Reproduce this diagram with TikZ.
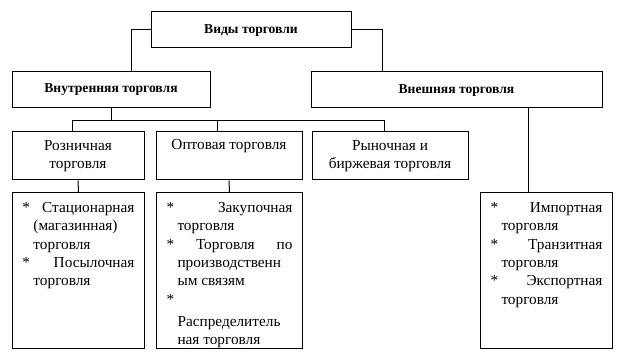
\documentclass[tikz,border=0pt]{standalone}
\usepackage{fontspec}
\setmainfont{Liberation Serif}

\newcommand{\ind}{\hspace*{11pt}}
\newcommand{\bul}{{*}}

\begin{document}
\begin{tikzpicture}[x=1pt, y=-1pt, line width=1pt,
  every node/.style={font=\fontsize{15.3}{18.3}\selectfont},
  titlebox/.style={draw, minimum height=36pt, font=\fontsize{13.6}{18.3}\selectfont\bfseries},
  kindbox/.style={draw, minimum height=48pt, align=center, inner sep=0pt},
  listbox/.style={draw, anchor=north west, inner xsep=10pt, inner ysep=10pt}]
\useasboundingbox (0,0) rectangle (625,361);

% top level
\node[titlebox, minimum width=200pt] (top) at (251,30) {Виды торговли};
\node[titlebox, minimum width=198pt] (vnutr) at (111,90) {Внутренняя торговля};
\node[titlebox, minimum width=291pt] (vnesh) at (456.5,90) {Внешняя торговля};

% second level
\node[kindbox, minimum width=132pt] (rozn) at (78,156) {Розничная\\торговля};
\node[kindbox, minimum width=146pt] (opt) at (229,156) {Оптовая торговля\\\strut};
\node[kindbox, minimum width=156pt] (rynok) at (390,156) {Рыночная и\\биржевая торговля};

% lists
\node[listbox] (roznlist) at (12,192) {\parbox[t][136pt][t]{112pt}{%
\bul\hfill Стационарная\\
\ind(магазинная)\\
\ind торговля\\
\bul\hfill Посылочная\\
\ind торговля}};
\node[listbox] (optlist) at (156,192) {\parbox[t][136pt][t]{126pt}{%
\bul\hfill Закупочная\\
\ind торговля\\
\bul\hfill Торговля\hfill по\\
\ind производственн\\
\ind ым связям\\
\bul\\[4pt]
\ind Распределитель\\
\ind ная торговля}};
\node[listbox] (vneshlist) at (480,192) {\parbox[t][136pt][t]{112pt}{%
\bul\hfill Импортная\\
\ind торговля\\
\bul\hfill Транзитная\\
\ind торговля\\
\bul\hfill Экспортная\\
\ind торговля}};

% connectors
\draw (top.west) -| ([xshift=20pt]vnutr.north);
\draw (top.east) -| ([xshift=-74.5pt]vnesh.north);

\coordinate (bus) at ([yshift=-12pt]vnutr.south);
\coordinate (rozntop) at ([xshift=-6pt]rozn.north);
\coordinate (opttop) at ([xshift=-12pt]opt.north);
\coordinate (rynoktop) at ([xshift=-6pt]rynok.north);
\draw (vnutr.south) -- (bus);
\draw (rozntop) |- (rynoktop |- bus) -- (rynoktop);
\draw (opttop) -- (opttop |- bus);

\draw (rozn.south) -- (roznlist.north);
\draw (opt.south) -- (optlist.north);
\coordinate (vneshdrop) at ([xshift=-18pt]vneshlist.north);
\draw (vneshdrop) -- (vneshdrop |- vnesh.south);
\end{tikzpicture}
\end{document}
